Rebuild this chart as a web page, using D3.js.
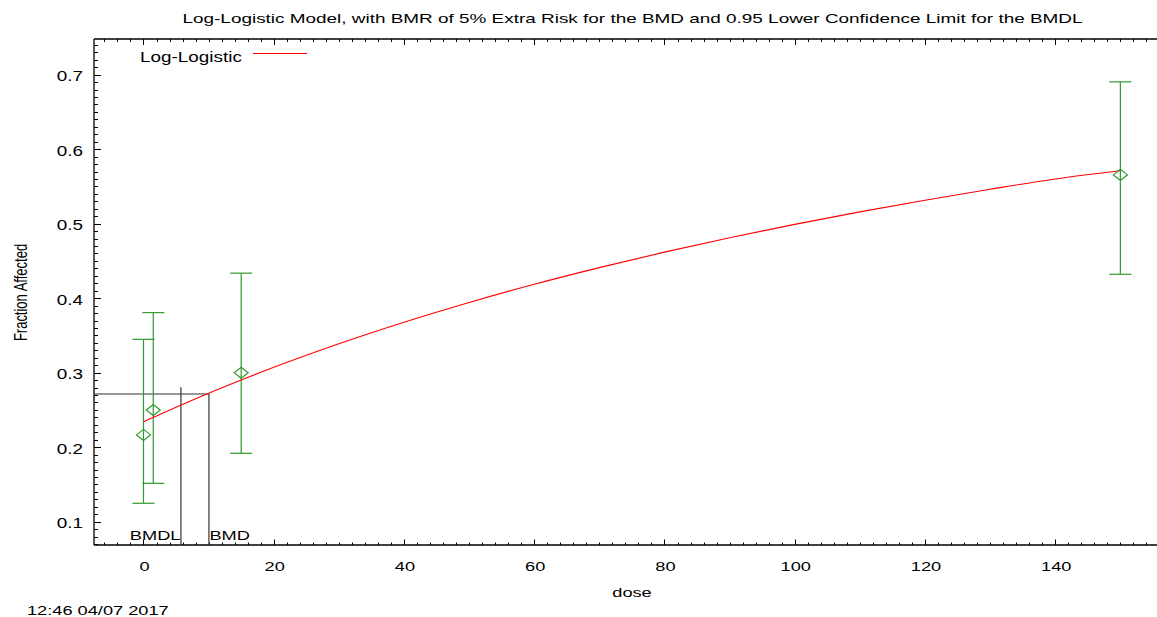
<!DOCTYPE html>
<html>
<head>
<meta charset="utf-8">
<script src="https://cdn.jsdelivr.net/npm/d3@7"></script>
<style>
  html, body { margin: 0; padding: 0; background: #fff; }
  svg { display: block; }
  text { font-family: "Liberation Sans", Arial, sans-serif; fill: #000; }
</style>
</head>
<body>
<svg id="chart" width="1157" height="617"></svg>
<script>
// ---- data ----
const doses = [0, 1.5, 15, 150];
const fractions = [0.2165, 0.2500, 0.3000, 0.5655];
const errLow = [0.1247, 0.1515, 0.1918, 0.4321];
const errHigh = [0.3448, 0.3806, 0.4336, 0.6904];

const curveDose = [0, 2, 5, 10, 15, 20, 30, 40, 50, 60, 70, 80, 90, 100, 110, 120, 130, 140, 150];
const curveFrac = [0.2342, 0.2420, 0.2537, 0.2725, 0.2903, 0.3073, 0.3389, 0.3678, 0.3943, 0.4186,
                   0.4410, 0.4618, 0.4811, 0.4991, 0.5158, 0.5315, 0.5462, 0.5600, 0.5710];

const bmd = 10.05;
const bmdl = 5.75;
const bmrLevel = 0.2714;
const bmdlTop = 0.2805;

const xTicks = [0, 20, 40, 60, 80, 100, 120, 140];
const yTicks = [0.1, 0.2, 0.3, 0.4, 0.5, 0.6, 0.7];

const titleText = "Log-Logistic Model, with BMR of 5% Extra Risk for the BMD and 0.95 Lower Confidence Limit for the BMDL";
const legendText = "Log-Logistic";
const xLabel = "dose";
const yLabel = "Fraction Affected";
const stamp = "12:46 04/07 2017";

// ---- layout ----
const svg = d3.select("#chart");
const L = 94, T = 39, B = 545;
const xDomain = [-7.6, 156];
const yDomain = [0.0687, 0.7479];
const pxPerUnit = 6.5125;
const R = L + (xDomain[1] - xDomain[0]) * pxPerUnit;

const x = d3.scaleLinear().domain(xDomain).range([L, R]);
const y = d3.scaleLinear().domain(yDomain).range([B, T]);

const SX = 1.35;
const green = "#2f9a2f";

function sText(g, px, py, txt, size, anchor) {
  return g.append("text")
    .attr("transform", `translate(${px},${py}) scale(${SX},1)`)
    .attr("text-anchor", anchor)
    .attr("font-size", size)
    .text(txt);
}

// frame lines
svg.append("line").attr("x1", L).attr("x2", L).attr("y1", T).attr("y2", B)
  .attr("stroke", "#000").attr("stroke-width", 1.3);
svg.append("line").attr("x1", L).attr("x2", R).attr("y1", T).attr("y2", T)
  .attr("stroke", "#000").attr("stroke-width", 1.3);
svg.append("line").attr("x1", L).attr("x2", R).attr("y1", B).attr("y2", B)
  .attr("stroke", "#000").attr("stroke-width", 1.3);

// x ticks (inward, bottom and top)
const xMinor = d3.range(-6, 157, 2);
const axG = svg.append("g");
xMinor.forEach(v => {
  const major = v % 20 === 0;
  const len = major ? 5.5 : 2.5;
  const px = Math.round(x(v)) + 0.5;
  axG.append("line").attr("x1", px).attr("x2", px).attr("y1", B).attr("y2", B - len)
    .attr("stroke", "#000").attr("stroke-width", 1);
  axG.append("line").attr("x1", px).attr("x2", px).attr("y1", T).attr("y2", T + (major ? 6 : 3))
    .attr("stroke", "#000").attr("stroke-width", 1);
});
// y ticks (inward, left)
const yMinor = d3.range(7, 75, 1).map(d => d / 100);
yMinor.forEach(v => {
  const major = Math.round(v * 100) % 10 === 0;
  const py = Math.round(y(v)) + 0.5;
  axG.append("line").attr("x1", L).attr("x2", L + (major ? 7 : 4)).attr("y1", py).attr("y2", py)
    .attr("stroke", "#000").attr("stroke-width", 1);
});

// tick labels
xTicks.forEach(v => sText(svg, x(v) + 1, 571, String(v), 13.5, "middle"));
yTicks.forEach(v => sText(svg, 83, y(v) + 6.5, d3.format(".1f")(v), 14, "end"));

// BMD / BMDL lines
svg.append("line").attr("x1", L).attr("x2", x(bmd)).attr("y1", y(bmrLevel)).attr("y2", y(bmrLevel))
  .attr("stroke", "#333").attr("stroke-width", 1.2);
svg.append("line").attr("x1", x(bmd)).attr("x2", x(bmd)).attr("y1", y(bmrLevel)).attr("y2", B)
  .attr("stroke", "#333").attr("stroke-width", 1.2);
svg.append("line").attr("x1", x(bmdl)).attr("x2", x(bmdl)).attr("y1", y(bmdlTop)).attr("y2", B)
  .attr("stroke", "#333").attr("stroke-width", 1.2);
sText(svg, x(bmdl) - 0.5, 540, "BMDL", 13.5, "end");
sText(svg, x(bmd) + 0.5, 540, "BMD", 13.5, "start");

// error bars
const eb = svg.append("g").attr("stroke", green).attr("stroke-width", 1.2).attr("fill", "none");
doses.forEach((d, i) => {
  const cx = x(d);
  eb.append("line").attr("x1", cx).attr("x2", cx).attr("y1", y(errLow[i])).attr("y2", y(errHigh[i]));
  eb.append("line").attr("x1", cx - 11).attr("x2", cx + 11).attr("y1", y(errLow[i])).attr("y2", y(errLow[i]));
  eb.append("line").attr("x1", cx - 11).attr("x2", cx + 11).attr("y1", y(errHigh[i])).attr("y2", y(errHigh[i]));
});

// model curve
const line = d3.line().x(d => x(d[0])).y(d => y(d[1])).curve(d3.curveMonotoneX);
svg.append("path").datum(curveDose.map((d, i) => [d, curveFrac[i]]))
  .attr("d", line).attr("fill", "none").attr("stroke", "#ff0000").attr("stroke-width", 1.1);

// diamonds
doses.forEach((d, i) => {
  const cx = x(d), cy = y(fractions[i]);
  svg.append("path")
    .attr("d", `M${cx - 7},${cy} L${cx},${cy - 5.5} L${cx + 7},${cy} L${cx},${cy + 5.5} Z`)
    .attr("fill", "none").attr("stroke", green).attr("stroke-width", 1.2);
});

// legend
sText(svg, 140, 62, legendText, 14, "start");
svg.append("line").attr("x1", 253).attr("x2", 307).attr("y1", 53.5).attr("y2", 53.5)
  .attr("stroke", "#ff0000").attr("stroke-width", 1.1);

// title
svg.append("text").attr("x", 632.5).attr("y", 23).attr("text-anchor", "middle")
  .attr("font-size", 12.6).attr("textLength", 900).attr("lengthAdjust", "spacingAndGlyphs")
  .text(titleText);

// axis labels
sText(svg, 632, 597, xLabel, 13.5, "middle");
svg.append("text")
  .attr("transform", `translate(26.5,292.5) scale(1.4,1) rotate(-90)`)
  .attr("text-anchor", "middle").attr("font-size", 13).text(yLabel);

// timestamp
sText(svg, 27, 615, stamp, 13.5, "start");
</script>
</body>
</html>
